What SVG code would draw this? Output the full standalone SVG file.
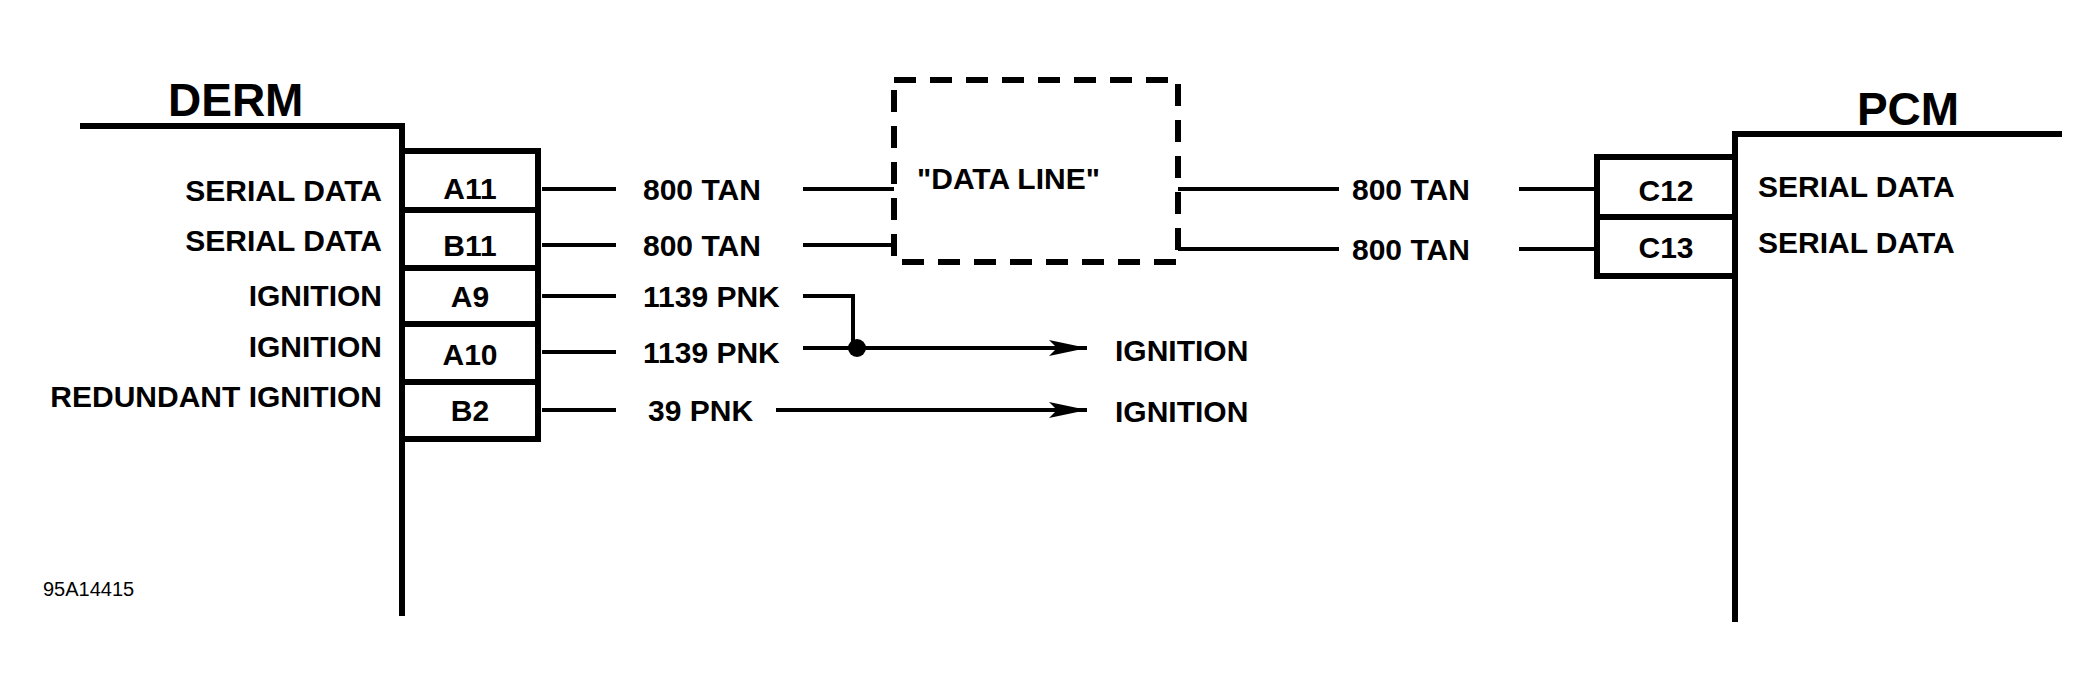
<svg xmlns="http://www.w3.org/2000/svg" width="2099" height="699" viewBox="0 0 2099 699">
<style>
.t{font-family:"Liberation Sans",Arial,sans-serif;font-weight:bold;font-size:30px;fill:#000}
.h{font-size:46px}
.w{fill:none;stroke:#000;stroke-width:4}
.b{fill:none;stroke:#000;stroke-width:6}
</style>
<defs><marker id="a" viewBox="0 0 40 20" refX="38" refY="10" markerWidth="40" markerHeight="20" markerUnits="userSpaceOnUse" orient="auto"><path d="M0,2 L38,10 L0,18 L8,10z" fill="#000"/></marker></defs>
<rect width="2099" height="699" fill="#fff"/>
<g id="derm">
<polyline class="b" points="80,126 402,126 402,616"/>
<text class="t h" x="168" y="116">DERM</text>
<rect class="b" x="402" y="151" width="136" height="288"/>
<path class="b" d="M402,210H538M402,268H538M402,324H538M402,382H538"/>
<g class="t" text-anchor="middle"><text x="470" y="199">A11</text><text x="470" y="256">B11</text><text x="470" y="307">A9</text><text x="470" y="365">A10</text><text x="470" y="421">B2</text></g>
<g class="t" text-anchor="end"><text x="382" y="201">SERIAL DATA</text><text x="382" y="251">SERIAL DATA</text><text x="382" y="306">IGNITION</text><text x="382" y="357">IGNITION</text><text x="382" y="407">REDUNDANT IGNITION</text></g>
</g>
<g id="dataline">
<rect x="894" y="80" width="284" height="182" fill="none" stroke="#000" stroke-width="6" stroke-dasharray="22,14"/>
<text class="t" x="917" y="189">"DATA LINE"</text>
</g>
<g id="pcm">
<polyline class="b" points="2062,134 1735,134 1735,622"/>
<text class="t h" x="1908" y="125" text-anchor="middle">PCM</text>
<rect class="b" x="1597" y="157" width="138" height="119"/>
<path class="b" d="M1597,217H1735"/>
<g class="t" text-anchor="middle"><text x="1666" y="201">C12</text><text x="1666" y="258">C13</text></g>
<g class="t"><text x="1758" y="197">SERIAL DATA</text><text x="1758" y="253">SERIAL DATA</text></g>
</g>
<g id="connectors">
<path class="w" d="M542,189H616M803,189H894M542,245H616M803,245H894M1178,189H1339M1519,189H1597M1178,249H1339M1519,249H1597M542,296H616M542,352H616M542,410H616"/>
<polyline class="w" points="803,296 853,296 853,348"/>
<line class="w" x1="803" y1="348" x2="1087" y2="348" marker-end="url(#a)"/>
<line class="w" x1="776" y1="410" x2="1087" y2="410" marker-end="url(#a)"/>
<circle cx="857" cy="348" r="9" fill="#000"/>
<g class="t"><text x="643" y="200">800 TAN</text><text x="643" y="256">800 TAN</text><text x="643" y="307">1139 PNK</text><text x="643" y="363">1139 PNK</text><text x="648" y="421">39 PNK</text>
<text x="1352" y="200">800 TAN</text><text x="1352" y="260">800 TAN</text>
<text x="1115" y="361">IGNITION</text><text x="1115" y="422">IGNITION</text></g>
</g>
<text x="43" y="596" font-family="Liberation Sans,Arial,sans-serif" font-size="20">95A14415</text>
</svg>
